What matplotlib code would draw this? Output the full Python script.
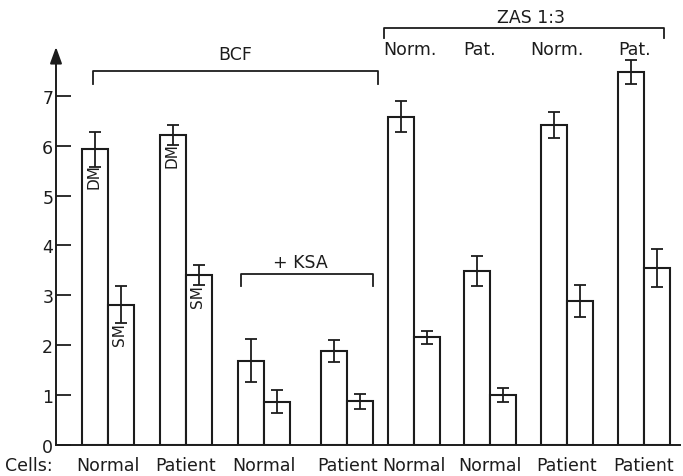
import matplotlib
matplotlib.use("Agg")
import matplotlib.pyplot as plt
import numpy as np

# ---- data ----
cell_labels = ["Normal", "Patient", "Normal", "Patient", "Normal", "Normal", "Patient", "Patient"]
dm_values = [5.93, 6.21, 1.69, 1.89, 6.58, 3.49, 6.41, 7.47]
dm_errors = [0.35, 0.20, 0.43, 0.22, 0.31, 0.30, 0.26, 0.24]
sm_values = [2.81, 3.41, 0.87, 0.88, 2.16, 1.00, 2.89, 3.54]
sm_errors = [0.37, 0.20, 0.23, 0.15, 0.13, 0.14, 0.32, 0.38]
y_ticks = [0, 1, 2, 3, 4, 5, 6, 7]
zas_labels = ["Norm.", "Pat.", "Norm.", "Pat."]

# ---- layout ----
group_pos = [2.0, 5.0, 8.0, 11.2, 13.75, 16.7, 19.65, 22.6]
bar_w = 1.0
ink = "#1c1c1c"
plt.rcParams["font.family"] = ["DejaVu Sans"]

fig = plt.figure(figsize=(6.83, 4.77), dpi=100)
ax = fig.add_axes([56 / 683, 1 - 446 / 477, 624 / 683, (446 - 48) / 477])
ax.set_xlim(0, 24)
ax.set_ylim(0, 7.976)

x = np.array(group_pos)
ax.bar(x - bar_w / 2, dm_values, width=bar_w, facecolor="white", edgecolor=ink, linewidth=1.5)
ax.bar(x + bar_w / 2, sm_values, width=bar_w, facecolor="white", edgecolor=ink, linewidth=1.5)
ax.errorbar(x - bar_w / 2, dm_values, yerr=dm_errors, fmt="none", ecolor=ink, elinewidth=1.3,
            capsize=4.5, capthick=1.3)
ax.errorbar(x + bar_w / 2, sm_values, yerr=sm_errors, fmt="none", ecolor=ink, elinewidth=1.3,
            capsize=4.5, capthick=1.3)

# DM / SM labels in first two groups
for i in range(2):
    ax.text(x[i] - bar_w / 2 - 0.05, dm_values[i] - dm_errors[i] + 0.06, "DM", rotation=90,
            ha="center", va="top", fontsize=11, color=ink)
    ax.text(x[i] + bar_w / 2 - 0.05, sm_values[i] - sm_errors[i] + 0.02, "SM", rotation=90,
            ha="center", va="top", fontsize=11, color=ink)

# axes styling
for s in ["top", "right", "left"]:
    ax.spines[s].set_visible(False)
ax.spines["bottom"].set_linewidth(1.4)
ax.spines["bottom"].set_color(ink)
ax.annotate("", xy=(0, 1), xycoords="axes fraction", xytext=(0, 0), textcoords="axes fraction",
            arrowprops=dict(arrowstyle="-|>,head_length=0.55,head_width=0.2", color=ink, lw=1.4,
                            mutation_scale=18, shrinkA=0, shrinkB=0))
ax.set_yticks(y_ticks)
ax.set_yticklabels([str(v) for v in y_ticks])
ax.tick_params(axis="y", direction="in", length=11, width=1.3, colors=ink, labelsize=12.5, pad=2)
ax.set_xticks(group_pos)
ax.set_xticklabels(cell_labels)
ax.tick_params(axis="x", length=0, labelsize=12.5, pad=8, colors=ink)
ax.annotate("Cells:", xy=(5 / 683, 0), xycoords=("figure fraction", "axes fraction"),
            xytext=(0, -8), textcoords="offset points", ha="left", va="top",
            fontsize=12.5, color=ink, annotation_clip=False)


def bracket(x0, x1, y, drop, label=None, lx=None, ly=None):
    ax.plot([x0, x0, x1, x1], [y - drop, y, y, y - drop], color=ink, lw=1.3, clip_on=False)
    if label:
        ax.text(lx, ly, label, ha="center", va="center", fontsize=12.5, color=ink)


bracket(1.42, 12.38, 7.49, 0.25, "BCF", 6.88, 7.84)
bracket(7.12, 12.19, 3.43, 0.24, "+ KSA", 9.38, 3.67)
bracket(12.62, 23.38, 8.36, 0.2, "ZAS 1:3", 18.27, 8.58)
for lbl, lx in zip(zas_labels, [13.6, 16.3, 19.27, 22.27]):
    ax.text(lx, 7.94, lbl, ha="center", va="center", fontsize=12.5, color=ink)

fig.savefig("out.png", dpi=100, facecolor="white")
